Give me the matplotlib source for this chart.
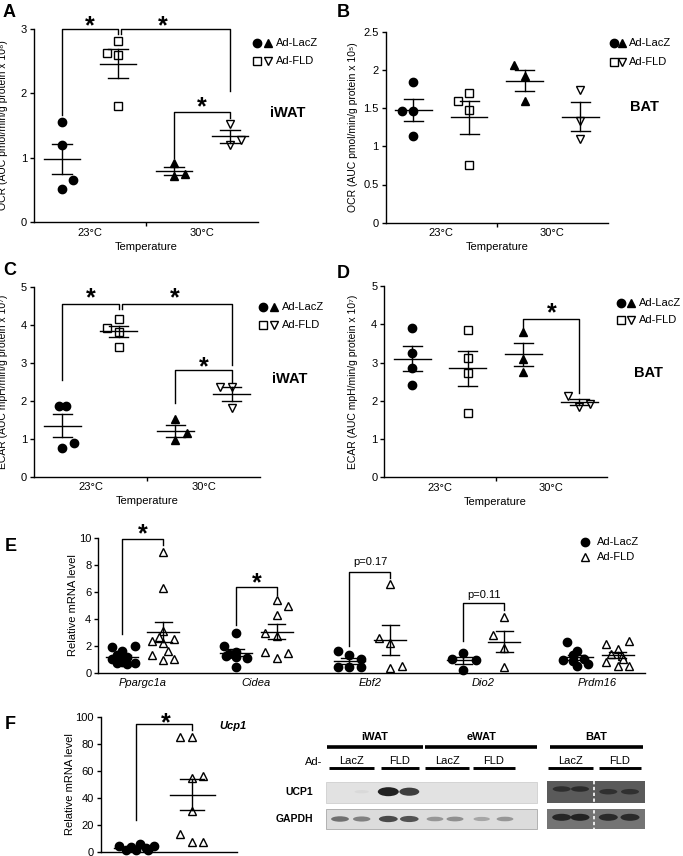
import numpy as np
import matplotlib
matplotlib.use('Agg')
import matplotlib.pyplot as plt
from matplotlib.patches import Rectangle, Ellipse

plt.rcParams['font.family'] = ['Liberation Sans', 'DejaVu Sans']
plt.rcParams['font.size'] = 8

# ---- data ----
temps = ['23°C', '30°C']

# A: OCR iWAT (x10^8)
ocr_iwat_lacz23 = [1.55, 1.19, 0.66, 0.52]
ocr_iwat_fld23 = [2.82, 2.62, 2.60, 1.81]
ocr_iwat_lacz30 = [0.92, 0.71, 0.74]
ocr_iwat_fld30 = [1.53, 1.28, 1.19]

# B: OCR BAT
ocr_bat_lacz23 = [1.84, 1.46, 1.46, 1.13]
ocr_bat_fld23 = [1.70, 1.59, 1.47, 0.75]
ocr_bat_lacz30 = [2.07, 1.92, 1.59]
ocr_bat_fld30 = [1.74, 1.33, 1.09]

# C: ECAR iWAT (x10^7)
ecar_iwat_lacz23 = [1.86, 1.86, 0.89, 0.76]
ecar_iwat_fld23 = [4.16, 3.90, 3.81, 3.42]
ecar_iwat_lacz30 = [1.51, 1.14, 0.96]
ecar_iwat_fld30 = [2.37, 2.37, 1.82]

# D: ECAR BAT
ecar_bat_lacz23 = [3.90, 3.26, 2.85, 2.41]
ecar_bat_fld23 = [3.85, 3.13, 2.72, 1.69]
ecar_bat_lacz30 = [3.79, 3.10, 2.76]
ecar_bat_fld30 = [2.13, 1.85, 1.91]

# E: relative mRNA, iWAT genes
genes = ['Ppargc1a', 'Cidea', 'Ebf2', 'Dio2', 'Prdm16']
mrna_lacz = [
    [1.94, 2.0, 1.6, 1.3, 1.2, 1.0, 0.8, 0.7, 0.7, 0.65],
    [2.93, 2.0, 1.56, 1.4, 1.27, 1.2, 1.07, 0.45],
    [1.65, 1.35, 1.0, 0.4, 0.4, 0.4],
    [1.44, 1.02, 0.98, 0.22],
    [2.26, 1.61, 1.3, 0.94, 0.87, 0.62, 0.52, 1.0],
]
mrna_fld = [
    [9.0, 6.33, 3.1, 2.36, 2.68, 2.5, 2.18, 1.61, 1.32, 0.94, 1.02],
    [5.41, 4.99, 4.29, 2.93, 2.75, 1.56, 1.49, 1.07],
    [6.58, 2.56, 2.18, 0.32, 0.52],
    [4.17, 2.8, 1.86, 0.45],
    [2.11, 2.36, 1.76, 1.36, 1.27, 0.82, 1.02, 0.52, 0.52],
]

# F: Ucp1 mRNA
ucp1_lacz = [4.5, 1.2, 3.7, 1.2, 6.0, 2.5, 4.2, 1.5]
ucp1_fld = [85.4, 85.0, 54.5, 56.2, 30.5, 13.1, 7.4, 7.4]

# western blot band intensities (0 = none, 1 = saturated)
blot_groups = ['iWAT', 'eWAT', 'BAT']
blot_lanes = ['LacZ', 'FLD', 'LacZ', 'FLD', 'LacZ', 'FLD']
ucp1_wat_bands = [0.0, 0.04, 1.0, 0.85, 0, 0, 0, 0]
gapdh_wat_bands = [0.7, 0.6, 0.95, 0.9, 0.45, 0.5, 0.35, 0.45]
ucp1_bat_bands = [0.85, 0.9, 0.8, 0.8]
gapdh_bat_bands = [0.9, 0.95, 0.85, 0.85]

# ---- figure ----
W, H = 683, 856
fig = plt.figure(figsize=(W / 100, H / 100), dpi=100)

MS = 6.0


def px_axes(l, t, r, b):
    return fig.add_axes([l / W, 1 - b / H, (r - l) / W, (b - t) / H])


def style(ax):
    for s in ['top', 'right']:
        ax.spines[s].set_visible(False)
    for s in ['left', 'bottom']:
        ax.spines[s].set_linewidth(1.0)
    ax.tick_params(axis='y', direction='out', length=3, width=1.0, labelsize=8, pad=2)


def scatter_group(ax, x, vals, offs, marker, filled, ms=MS):
    xs = x + np.asarray(offs)
    ax.plot(xs, vals, ls='none', marker=marker, ms=ms, mew=1.0,
            mfc='k' if filled else 'white', mec='k', clip_on=False, zorder=3)


def mean_sem(ax, x, vals, half=0.33, cap=0.17):
    v = np.asarray(vals, dtype=float)
    m = v.mean()
    s = v.std(ddof=1) / np.sqrt(len(v))
    kw = dict(color='k', lw=1.0, zorder=4)
    ax.plot([x - half, x + half], [m, m], **kw)
    ax.plot([x - cap, x + cap], [m + s, m + s], **kw)
    ax.plot([x - cap, x + cap], [m - s, m - s], **kw)
    ax.plot([x, x], [m - s, m + s], **kw)


def bracket(ax, x1, x2, y1, ytop, y2):
    ax.plot([x1, x1, x2, x2], [y1, ytop, ytop, y2], color='k', lw=1.0, clip_on=False)


def star(ax, x, y, fs=18):
    ax.annotate('*', (x, y), xytext=(0, -0.6 * fs), textcoords='offset points',
                ha='center', va='baseline', fontsize=fs, fontweight='bold',
                annotation_clip=False)


over = fig.add_axes([0, 0, 1, 1], zorder=10)
over.set_xlim(0, W)
over.set_ylim(H, 0)
over.axis('off')
over.patch.set_alpha(0)


def legend_pair(x1, x2, xt, y1, y2, lab1='Ad-LacZ', lab2='Ad-FLD'):
    over.plot([x1], [y1], 'o', ms=MS, mfc='k', mec='k')
    over.plot([x2], [y1], '^', ms=MS, mfc='k', mec='k')
    over.plot([x1], [y2], 's', ms=MS - 0.4, mfc='white', mec='k', mew=1.0)
    over.plot([x2], [y2], 'v', ms=MS, mfc='white', mec='k', mew=1.0)
    over.text(xt, y1, lab1, va='center', ha='left', fontsize=8)
    over.text(xt, y2, lab2, va='center', ha='left', fontsize=8)


def temp_panel(rect, groups, offsets, ylim, yticks, yticklabels, ylabel, ylabx):
    ax = px_axes(*rect)
    style(ax)
    ax.set_xlim(0.5, 4.5)
    ax.set_ylim(*ylim)
    ax.set_yticks(yticks)
    ax.set_yticklabels(yticklabels)
    ax.set_xticks([2.5])
    ax.set_xticklabels([])
    ax.set_xticks([1.5, 3.5], minor=True)
    ax.set_xticklabels(temps, minor=True)
    ax.tick_params(axis='x', which='major', direction='out', length=3, width=1.0)
    ax.tick_params(axis='x', which='minor', length=0, pad=4, labelsize=8)
    ax.set_xlabel('Temperature', fontsize=8, labelpad=3)
    ax.set_ylabel(ylabel, fontsize=7.5)
    ax.yaxis.set_label_coords(ylabx, 0.5)
    markers = [('o', True), ('s', False), ('^', True), ('v', False)]
    for i, (vals, offs, (mk, fill)) in enumerate(zip(groups, offsets, markers)):
        scatter_group(ax, i + 1, vals, offs, mk, fill, ms=MS - 0.4 if mk == 's' else MS)
        mean_sem(ax, i + 1, vals)
    return ax


# A
axA = temp_panel((34, 29, 258, 222),
                 [ocr_iwat_lacz23, ocr_iwat_fld23, ocr_iwat_lacz30, ocr_iwat_fld30],
                 [[0, 0, 0.2, 0], [0, -0.2, 0, 0], [0, 0, 0.2], [0, 0.2, 0]],
                 (0, 3), [0, 1, 2, 3], ['0', '1', '2', '3'],
                 'OCR (AUC pmol/min/g protein x 10⁸)', -0.114)
bracket(axA, 1, 2, 1.67, 3.0, 2.92)
bracket(axA, 2.05, 4, 2.92, 3.0, 2.04)
bracket(axA, 3, 4, 1.0, 1.71, 1.62)
star(axA, 1.5, 3.17)
star(axA, 2.8, 3.17)
star(axA, 3.5, 1.9)
legend_pair(256.7, 268, 276, 43, 61)
over.text(288, 113, 'iWAT', ha='center', va='center', fontsize=10.5, fontweight='bold')

# B
axB = temp_panel((385.7, 31.7, 608, 222.7),
                 [ocr_bat_lacz23, ocr_bat_fld23, ocr_bat_lacz30, ocr_bat_fld30],
                 [[0, -0.2, 0, 0], [0, -0.2, 0, 0], [-0.2, 0, 0], [0, 0, 0]],
                 (0, 2.5), [0, 0.5, 1, 1.5, 2, 2.5], ['0', '0.5', '1', '1.5', '2', '2.5'],
                 'OCR (AUC pmol/min/g protein x 10⁵)', -0.125)
legend_pair(614, 621.7, 629.3, 43.3, 61.7)
over.text(644, 107, 'BAT', ha='center', va='center', fontsize=10.5, fontweight='bold')

# C
axC = temp_panel((34, 286.7, 260, 476.7),
                 [ecar_iwat_lacz23, ecar_iwat_fld23, ecar_iwat_lacz30, ecar_iwat_fld30],
                 [[-0.06, 0.06, 0.2, 0], [0, -0.2, 0, 0], [0, 0.2, 0], [-0.2, 0, 0]],
                 (0, 5), [0, 1, 2, 3, 4, 5], ['0', '1', '2', '3', '4', '5'],
                 'ECAR (AUC mpH/min/g protein x 10⁷)', -0.113)
bracket(axC, 1, 2, 2.54, 4.54, 4.40)
bracket(axC, 2.05, 4, 4.40, 4.54, 2.94)
bracket(axC, 3, 4, 1.93, 2.82, 2.44)
star(axC, 1.5, 4.91)
star(axC, 3.0, 4.91)
star(axC, 3.5, 3.1)
legend_pair(262.7, 274, 281.7, 307.3, 325)
over.text(290, 379, 'iWAT', ha='center', va='center', fontsize=10.5, fontweight='bold')

# D
axD = temp_panel((384.3, 286, 607, 477.3),
                 [ecar_bat_lacz23, ecar_bat_fld23, ecar_bat_lacz30, ecar_bat_fld30],
                 [[0, 0, 0, 0], [0, 0, 0, 0], [0, 0, 0], [-0.2, 0, 0.2]],
                 (0, 5), [0, 1, 2, 3, 4, 5], ['0', '1', '2', '3', '4', '5'],
                 'ECAR (AUC mpH/min/g protein x 10⁷)', -0.117)
bracket(axD, 3, 4, 3.88, 4.14, 2.2)
star(axD, 3.51, 4.5)
legend_pair(620.7, 631, 639.3, 303.3, 320)
over.text(648, 373, 'BAT', ha='center', va='center', fontsize=10.5, fontweight='bold')

# E
axE = px_axes(98.3, 538.3, 645, 672.7)
style(axE)
axE.set_xlim(-0.39, 4.42)
axE.set_ylim(0, 10)
axE.set_yticks([0, 2, 4, 6, 8, 10])
axE.set_xticks(range(len(genes)))
axE.set_xticklabels(genes, fontstyle='italic', fontsize=8)
axE.tick_params(axis='x', length=0, pad=4)
axE.set_ylabel('Relative mRNA level', fontsize=8)
axE.yaxis.set_label_coords(-0.038, 0.5)

e_lacz_offs = [
    [-0.09, 0.11, 0, -0.045, 0.045, -0.09, 0, 0.11, -0.045, 0.045],
    [0, -0.1, 0, -0.06, -0.09, 0, 0.1, 0],
    [-0.1, 0, 0.1, -0.1, 0, 0.1],
    [0, -0.1, 0.11, 0],
    [-0.09, 0, -0.03, -0.12, -0.03, 0.1, 0, 0.06],
]
e_fld_offs = [
    [0, 0, 0, -0.1, -0.035, 0.1, 0, 0.045, -0.1, 0, 0.1],
    [0, 0.1, 0, -0.1, 0, -0.1, 0.1, 0],
    [0, -0.1, 0, 0, 0.1],
    [0, -0.1, 0, 0],
    [-0.1, 0.1, 0, -0.06, 0.04, -0.1, 0.05, 0, 0.1],
]
for i in range(len(genes)):
    scatter_group(axE, i - 0.18, mrna_lacz[i], e_lacz_offs[i], 'o', True)
    scatter_group(axE, i + 0.18, mrna_fld[i], e_fld_offs[i], '^', False)
    mean_sem(axE, i - 0.18, mrna_lacz[i], half=0.14, cap=0.075)
    mean_sem(axE, i + 0.18, mrna_fld[i], half=0.14, cap=0.075)

bracket(axE, -0.18, 0.18, 2.85, 9.95, 9.5)
bracket(axE, 0.82, 1.18, 3.55, 6.35, 5.78)
bracket(axE, 1.82, 2.18, 2.0, 7.52, 7.02)
bracket(axE, 2.82, 3.18, 2.36, 5.16, 4.67)
star(axE, 0.0, 10.86)
star(axE, 1.0, 7.27)
axE.text(2.0, 8.21, 'p=0.17', ha='center', va='center', fontsize=8)
axE.text(3.0, 5.78, 'p=0.11', ha='center', va='center', fontsize=8)
over.plot([585], [542.3], 'o', ms=MS, mfc='k', mec='k')
over.plot([585], [556.7], '^', ms=MS, mfc='white', mec='k', mew=1.0)
over.text(596.7, 542.3, 'Ad-LacZ', va='center', fontsize=8)
over.text(596.7, 556.7, 'Ad-FLD', va='center', fontsize=8)

# F
axF = px_axes(100.7, 717.3, 236.7, 851.7)
style(axF)
axF.set_xlim(0.38, 2.79)
axF.set_ylim(0, 100)
axF.set_yticks([0, 20, 40, 60, 80, 100])
axF.set_xticks([])
axF.set_ylabel('Relative mRNA level', fontsize=8)
axF.yaxis.set_label_coords(-0.19, 0.5)
f_lacz_offs = [-0.29, -0.18, -0.09, 0, 0.08, 0.18, 0.32, 0.21]
f_fld_offs = [-0.21, 0, 0, 0.2, 0, -0.21, 0, 0.2]
scatter_group(axF, 1, ucp1_lacz, f_lacz_offs, 'o', True)
scatter_group(axF, 2, ucp1_fld, f_fld_offs, '^', False)
mean_sem(axF, 1, ucp1_lacz, half=0.38, cap=0.21)
mean_sem(axF, 2, ucp1_fld, half=0.4, cap=0.21)
bracket(axF, 1, 1.99, 23.5, 95, 90.5)
star(axF, 1.53, 101.7)
over.text(233, 726, 'Ucp1', ha='center', va='center', fontsize=8,
          fontweight='bold', fontstyle='italic')

# ---- western blot ----
for name, x0, x1 in zip(blot_groups, [326.7, 425, 550], [422.7, 537.3, 643.3]):
    over.plot([x0, x1], [746.7, 746.7], color='k', lw=2.6, solid_capstyle='butt')
    over.text((x0 + x1) / 2, 737.3, name, ha='center', va='center', fontsize=8, fontweight='bold')
sub_bars = [(329.3, 374), (380.7, 419.3), (425.3, 469.3), (473, 515), (548.3, 593.3), (599, 640.7)]
for lab, (x0, x1) in zip(blot_lanes, sub_bars):
    over.plot([x0, x1], [768.3, 768.3], color='k', lw=2.1, solid_capstyle='butt')
    over.text((x0 + x1) / 2, 761, lab, ha='center', va='center', fontsize=8)
over.text(313.3, 761.7, 'Ad-', ha='center', va='center', fontsize=8)
over.text(313, 791.7, 'UCP1', ha='right', va='center', fontsize=7.5, fontweight='bold')
over.text(313, 819.3, 'GAPDH', ha='right', va='center', fontsize=7.5, fontweight='bold')

over.add_patch(Rectangle((326, 781.7), 211.3, 21, fc='#e2e2e2', ec='#cfcfcf', lw=0.6))
over.add_patch(Rectangle((326, 809.3), 211.3, 20, fc='#dcdcdc', ec='#a8a8a8', lw=0.6))
over.add_patch(Rectangle((546.7, 780.7), 98.3, 22, fc='#5a5a5a', ec='none'))
over.add_patch(Rectangle((546.7, 809.3), 98.3, 20, fc='#747474', ec='none'))

wat_lanes = [340, 361.7, 388.3, 409.3, 435, 455, 481.7, 505]
bat_lanes = [561.7, 580, 608.3, 630]
for x, k in zip(wat_lanes, ucp1_wat_bands):
    if k > 0:
        g = 0.88 - 0.75 * k
        over.add_patch(Ellipse((x, 791.7), 14 + 7 * k, 3 + 6 * k, fc=str(g), ec='none'))
for x, k in zip(wat_lanes, gapdh_wat_bands):
    g = 0.86 - 0.6 * k
    over.add_patch(Ellipse((x, 819), 15 + 4 * k, 3 + 3.5 * k, fc=str(g), ec='none'))
for x, k, y in zip(bat_lanes, ucp1_bat_bands, [789, 789, 791.7, 791.7]):
    over.add_patch(Ellipse((x, y), 18, 5.5, fc=str(0.35 - 0.2 * k), ec='none'))
for x, k in zip(bat_lanes, gapdh_bat_bands):
    over.add_patch(Ellipse((x, 817.3), 19, 7, fc=str(0.42 - 0.3 * k), ec='none'))
over.plot([594, 594], [780.7, 829.3], color='white', lw=1.2, ls=(0, (2, 1.5)))

# panel letters
for lab, x, y in [('A', 3, 4), ('B', 337, 4), ('C', 3, 262), ('D', 337, 265),
                  ('E', 5, 538), ('F', 5, 716)]:
    over.text(x, y, lab, ha='left', va='top', fontsize=13, fontweight='bold')

fig.savefig('out.png', dpi=100)
